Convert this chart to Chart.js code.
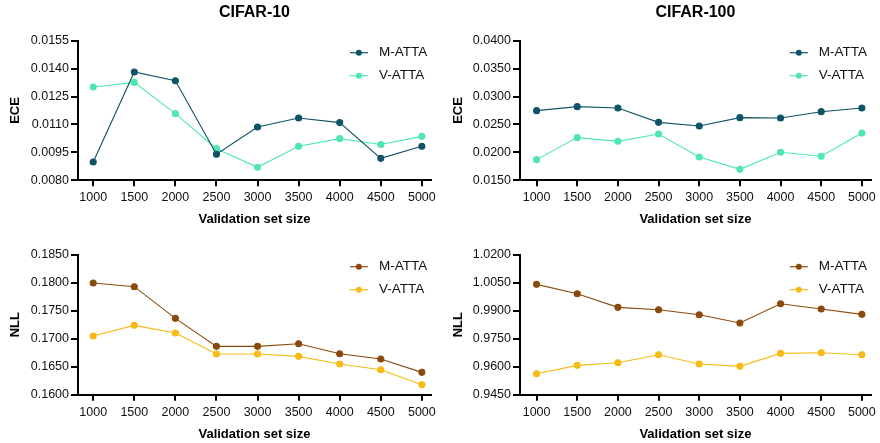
<!DOCTYPE html>
<html>
<head>
<meta charset="utf-8">
<script src="https://cdn.jsdelivr.net/npm/chart.js@4"></script>
<style>
  body { margin: 0; background: #fff; }
  .wrap { position: relative; width: 880px; height: 443px; }
  .panel { position: absolute; }
</style>
</head>
<body>
<div class="wrap">
  <div class="panel" style="left:0;top:0;width:440px;height:227px"><canvas id="c10ece"></canvas></div>
  <div class="panel" style="left:440px;top:0;width:440px;height:227px"><canvas id="c100ece"></canvas></div>
  <div class="panel" style="left:0;top:222px;width:440px;height:221px"><canvas id="c10nll"></canvas></div>
  <div class="panel" style="left:440px;top:222px;width:440px;height:221px"><canvas id="c100nll"></canvas></div>
</div>

<script>
  // data
  var sizes = [1000, 1500, 2000, 2500, 3000, 3500, 4000, 4500, 5000];
  var seriesNames = ["M-ATTA", "V-ATTA"];

  var c10EceM = [0.00898, 0.01382, 0.01335, 0.00940, 0.01086, 0.01135, 0.01110, 0.00918, 0.00983];
  var c10EceV = [0.01301, 0.01326, 0.01158, 0.00970, 0.00870, 0.00983, 0.01024, 0.00992, 0.01036];
  var c10EceTicks = [0.0080, 0.0095, 0.0110, 0.0125, 0.0140, 0.0155];

  var c100EceM = [0.02747, 0.02819, 0.02795, 0.02538, 0.02473, 0.02622, 0.02616, 0.02729, 0.02795];
  var c100EceV = [0.01870, 0.02264, 0.02198, 0.02329, 0.01918, 0.01697, 0.02001, 0.01930, 0.02347];
  var c100EceTicks = [0.0150, 0.0200, 0.0250, 0.0300, 0.0350, 0.0400];

  var c10NllM = [0.17994, 0.17929, 0.17363, 0.16863, 0.16863, 0.16911, 0.16732, 0.16637, 0.16399];
  var c10NllV = [0.17048, 0.17238, 0.17101, 0.16726, 0.16726, 0.16685, 0.16548, 0.16446, 0.16179];
  var c10NllTicks = [0.1600, 0.1650, 0.1700, 0.1750, 0.1800, 0.1850];

  var c100NllM = [1.00411, 0.99911, 0.99179, 0.99054, 0.98786, 0.98340, 0.99375, 0.99089, 0.98804];
  var c100NllV = [0.95625, 0.96071, 0.96214, 0.96643, 0.96143, 0.96018, 0.96714, 0.96750, 0.96643];
  var c100NllTicks = [0.9450, 0.9600, 0.9750, 0.9900, 1.0050, 1.0200];

  Chart.defaults.font.family = '"Liberation Sans", Arial, sans-serif';
  Chart.defaults.color = '#111';

  // legend drawn inside the plot, top right
  var innerLegend = {
    id: 'innerLegend',
    afterDraw: function (chart) {
      var ctx = chart.ctx, a = chart.chartArea;
      var rows = [a.top + 12, a.top + 35];
      ctx.save();
      chart.data.datasets.forEach(function (ds, i) {
        var cx = a.right - 72, cy = rows[i];
        ctx.strokeStyle = ds.borderColor;
        ctx.lineWidth = 1.2;
        ctx.beginPath();
        ctx.moveTo(cx - 9, cy);
        ctx.lineTo(cx + 9, cy);
        ctx.stroke();
        ctx.fillStyle = ds.pointBackgroundColor;
        ctx.beginPath();
        ctx.arc(cx, cy, 3, 0, Math.PI * 2);
        ctx.fill();
        ctx.fillStyle = '#111';
        ctx.font = '13.5px "Liberation Sans", Arial, sans-serif';
        ctx.textBaseline = 'middle';
        ctx.fillText(ds.label, a.right - 52, cy);
      });
      ctx.restore();
    }
  };

  function makePanel(id, p) {
    var ds = function (label, vals, color) {
      return {
        label: label,
        data: sizes.map(function (s, i) { return { x: s, y: vals[i] }; }),
        borderColor: color,
        backgroundColor: color,
        pointBackgroundColor: color,
        pointBorderColor: color,
        borderWidth: 1.1,
        pointRadius: 3,
        tension: 0
      };
    };
    new Chart(document.getElementById(id), {
      type: 'line',
      data: {
        datasets: [ds(seriesNames[0], p.m, p.colM), ds(seriesNames[1], p.v, p.colV)]
      },
      options: {
        responsive: true,
        maintainAspectRatio: false,
        animation: false,
        layout: { padding: { left: 0, right: 440 - p.right, top: p.padTop, bottom: 0 } },
        plugins: {
          legend: { display: false },
          tooltip: { enabled: false },
          title: {
            display: !!p.title,
            text: p.title,
            fullSize: false,
            color: '#000',
            font: { size: 16, weight: 'bold' },
            padding: { top: 3.4, bottom: 18.1 }
          }
        },
        scales: {
          x: {
            type: 'linear',
            min: p.xMin,
            max: p.xMax,
            afterBuildTicks: function (s) { s.ticks = sizes.map(function (v) { return { value: v }; }); },
            afterFit: function (s) { s.height = p.xHeight; },
            ticks: { font: { size: 12.5 }, padding: 4, maxRotation: 0, autoSkip: false,
                     callback: function (v) { return String(v); } },
            grid: { display: true, drawOnChartArea: false, drawTicks: true, tickLength: 6, color: '#000', lineWidth: 2 },
            border: { display: true, color: '#000', width: 2 },
            title: { display: true, text: 'Validation set size', color: '#000',
                     font: { size: 13, weight: 'bold' }, padding: { top: 0, bottom: p.xTitlePad } }
          },
          y: {
            min: p.yTicks[0],
            max: p.yTicks[p.yTicks.length - 1],
            afterBuildTicks: function (s) { s.ticks = p.yTicks.map(function (v) { return { value: v }; }); },
            afterFit: function (s) { s.width = p.left; },
            ticks: { font: { size: 12.5 }, padding: 2,
                     callback: function (v) { return v.toFixed(4); } },
            grid: { display: true, drawOnChartArea: false, drawTicks: true, tickLength: 7, color: '#000', lineWidth: 2 },
            border: { display: true, color: '#000', width: 2 },
            title: { display: true, text: p.yTitle, color: '#000',
                     font: { size: 13, weight: 'bold' }, padding: { top: p.yTitlePad, bottom: 0 } }
          }
        }
      },
      plugins: [innerLegend]
    });
  }

  var teal = '#0f5366', mint = '#4fe6b3', brown = '#8b4a0d', gold = '#f6bb14';

  makePanel('c10ece', { title: 'CIFAR-10', yTitle: 'ECE', m: c10EceM, v: c10EceV, colM: teal, colV: mint,
    yTicks: c10EceTicks, xMin: 815, xMax: 5110, left: 78, right: 431, padTop: 0, xHeight: 46.7, xTitlePad: 0, yTitlePad: 7.5 });
  makePanel('c100ece', { title: 'CIFAR-100', yTitle: 'ECE', m: c100EceM, v: c100EceV, colM: teal, colV: mint,
    yTicks: c100EceTicks, xMin: 796, xMax: 5110, left: 80, right: 433, padTop: 0, xHeight: 46.7, xTitlePad: 0, yTitlePad: 11 });
  makePanel('c10nll', { title: '', yTitle: 'NLL', m: c10NllM, v: c10NllV, colM: brown, colV: gold,
    yTicks: c10NllTicks, xMin: 815, xMax: 5110, left: 78, right: 431, padTop: 32.7, xHeight: 48.3, xTitlePad: 1, yTitlePad: 7.5 });
  makePanel('c100nll', { title: '', yTitle: 'NLL', m: c100NllM, v: c100NllV, colM: brown, colV: gold,
    yTicks: c100NllTicks, xMin: 796, xMax: 5110, left: 80, right: 433, padTop: 32.7, xHeight: 48.3, xTitlePad: 1, yTitlePad: 11 });
</script>
</body>
</html>
